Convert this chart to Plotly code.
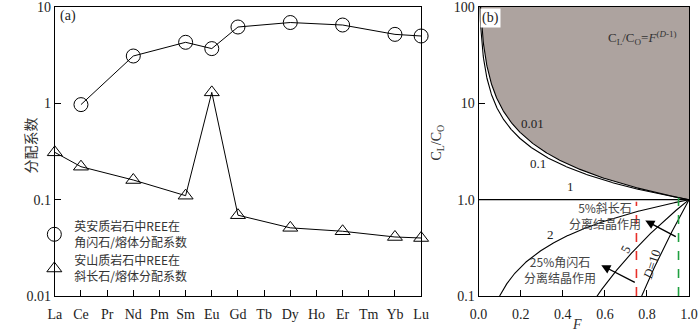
import numpy as np
import plotly.graph_objects as go

# panel (a): REE partition coefficients
ree = ["La", "Ce", "Pr", "Nd", "Pm", "Sm", "Eu", "Gd", "Tb", "Dy", "Ho", "Er", "Tm", "Yb", "Lu"]
hbl_ree = ["Ce", "Nd", "Sm", "Eu", "Gd", "Dy", "Er", "Yb", "Lu"]
hbl_kd = [0.97, 3.1, 4.3, 3.7, 6.2, 6.9, 6.5, 5.2, 5.0]
plg_ree = ["La", "Ce", "Nd", "Sm", "Eu", "Gd", "Dy", "Er", "Yb", "Lu"]
plg_kd = [0.31, 0.22, 0.16, 0.11, 1.3, 0.069, 0.051, 0.047, 0.041, 0.040]

# panel (b): Rayleigh fractionation curves CL/CO = F^(D-1)
d_values = [0.01, 0.1, 1, 2, 5, 10]
d_labels = ["0.01", "0.1", "1", "2", "5", "D=10"]
f_red = 0.75
f_green = 0.95

SERIF = "Liberation Serif"
CJK = "Noto Sans CJK SC"
xi = {el: i for i, el in enumerate(ree)}

fig = go.Figure()

fig.add_trace(go.Scatter(
    x=[xi[e] for e in hbl_ree], y=hbl_kd, mode="lines+markers",
    line=dict(color="black", width=1),
    marker=dict(symbol="circle-open", size=14, color="black", line=dict(width=1)),
    showlegend=False, cliponaxis=False, xaxis="x", yaxis="y"))
fig.add_trace(go.Scatter(
    x=[xi[e] for e in plg_ree], y=plg_kd, mode="lines+markers",
    line=dict(color="black", width=1),
    marker=dict(symbol="triangle-up-open", size=13, color="black", line=dict(width=1)),
    showlegend=False, cliponaxis=False, xaxis="x", yaxis="y"))

# legend dummies
fig.add_trace(go.Scatter(
    x=[None], y=[None], mode="markers", name="英安质岩石中REE在<br>角闪石/熔体分配系数",
    marker=dict(symbol="circle-open", size=14, color="black", line=dict(width=1)),
    xaxis="x", yaxis="y"))
fig.add_trace(go.Scatter(
    x=[None], y=[None], mode="markers", name="安山质岩石中REE在<br>斜长石/熔体分配系数",
    marker=dict(symbol="triangle-up-open", size=13, color="black", line=dict(width=1)),
    xaxis="x", yaxis="y"))

# panel (b)
F = np.linspace(0.002, 1.0, 600)
c_low = F ** (d_values[0] - 1)
mask = c_low <= 100
fx = np.concatenate([F[mask], [1.0, F[mask][0]]])
fy = np.concatenate([c_low[mask], [100, 100]])
fig.add_trace(go.Scatter(
    x=fx, y=fy, mode="lines", fill="toself", fillcolor="#ada39f",
    line=dict(width=0), showlegend=False, hoverinfo="skip",
    xaxis="x2", yaxis="y2"))

for d in d_values:
    c = F ** (d - 1)
    fig.add_trace(go.Scatter(
        x=F, y=c, mode="lines", line=dict(color="black", width=1.1),
        showlegend=False, xaxis="x2", yaxis="y2"))

fig.add_trace(go.Scatter(
    x=[f_red, f_red], y=[0.1, 0.95], mode="lines",
    line=dict(color="#e8302a", width=1.6, dash="dash"),
    showlegend=False, xaxis="x2", yaxis="y2"))
fig.add_trace(go.Scatter(
    x=[f_green, f_green], y=[0.1, 1.05], mode="lines",
    line=dict(color="#1fa040", width=1.6, dash="dash"),
    showlegend=False, xaxis="x2", yaxis="y2"))

ax_common = dict(showline=True, linecolor="black", linewidth=1, mirror=True,
                 ticks="inside", ticklen=6, tickcolor="black", showgrid=False,
                 zeroline=False, ticklabeloverflow="allow",
                 tickfont=dict(family=SERIF, size=14, color="#222"))

fig.update_layout(
    width=700, height=333, autosize=False,
    margin=dict(l=0, r=0, t=5, b=37),
    paper_bgcolor="white", plot_bgcolor="white",
    xaxis=dict(domain=[47 / 700, 423 / 700], range=[0, 14],
               tickvals=list(range(len(ree))), ticktext=ree,
               ticklabelstandoff=5, **ax_common),
    yaxis=dict(type="log", range=[-2, 1], tickvals=[0.01, 0.1, 1, 10],
               ticktext=["0.01", "0.1", "1", "10"], anchor="x", **ax_common),
    xaxis2=dict(domain=[482 / 700, 698 / 700], range=[0, 1], anchor="y2",
                tickvals=[0, 0.2, 0.4, 0.6, 0.8, 1.0],
                ticktext=["0.0", "0.2", "0.4", "0.6", "0.8", "1.0"],
                ticklabelstandoff=5, **ax_common),
    yaxis2=dict(type="log", range=[-1, 2], anchor="x2",
                tickvals=[0.1, 1, 10, 100], ticktext=["0.1", "1.0", "10", "100"],
                **ax_common),
    legend=dict(x=26 / 700, y=0.29, xanchor="left", yanchor="top",
                bgcolor="rgba(0,0,0,0)", font=dict(family=CJK, size=12, color="#333"),
                tracegroupgap=2, itemwidth=30),
    showlegend=True,
)

ann = []
ann.append(dict(text="(a)", x=50 / 700, y=1 - 9 / 291, xref="paper", yref="paper",
                xanchor="left", yanchor="middle", showarrow=False,
                font=dict(family=SERIF, size=14, color="#222")))
ann.append(dict(text="(b)", x=483 / 700, y=0.997, xref="paper", yref="paper",
                xanchor="left", yanchor="top", showarrow=False, bgcolor="white",
                font=dict(family=SERIF, size=14, color="#222")))
ann.append(dict(text="分配系数", x=9 / 700, y=0.52, xref="paper", yref="paper",
                textangle=-90, showarrow=False,
                font=dict(family=CJK, size=14, color="#333")))
ann.append(dict(text="C<sub>L</sub>/C<sub>O</sub>", x=440 / 700, y=0.53, xref="paper",
                yref="paper", textangle=-90, showarrow=False,
                font=dict(family=SERIF, size=14, color="#333")))
ann.append(dict(text="<i>F</i>", x=590 / 700, y=-0.1, xref="paper", yref="paper",
                yanchor="middle", showarrow=False,
                font=dict(family=SERIF, size=14, color="#333")))
ann.append(dict(text="C<sub>L</sub>/C<sub>O</sub>=<i>F</i><sup>(<i>D</i>-1)</sup>",
                x=613 / 700, y=1 - 20 / 291, xref="paper", yref="paper",
                xanchor="left", showarrow=False,
                font=dict(family=SERIF, size=13, color="#333")))

label_pos = [(0.255, 6.2, 0), (0.28, 2.4, 0), (0.435, 1.36, 0),
             (0.343, 0.43, 0), (0.70, 0.31, -62), (0.824, 0.21, -72)]
for lab, (lx, ly, ang) in zip(d_labels, label_pos):
    txt = "<i>D</i>=10" if lab == "D=10" else lab
    ann.append(dict(text=txt, x=lx, y=np.log10(ly), xref="x2", yref="y2",
                    textangle=ang, showarrow=False,
                    font=dict(family=SERIF, size=13, color="#222")))

ann.append(dict(text="5%斜长石<br>分离结晶作用", x=0.60, y=np.log10(0.68),
                xref="x2", yref="y2", showarrow=False,
                font=dict(family=CJK, size=12, color="#444")))
ann.append(dict(text="25%角闪石<br>分离结晶作用", x=0.388, y=np.log10(0.19),
                xref="x2", yref="y2", showarrow=False,
                font=dict(family=CJK, size=12, color="#444")))
ann.append(dict(text="", x=0.792, y=-0.216, xref="x2", yref="y2",
                ax=32, ay=17, showarrow=True, arrowhead=2, arrowsize=1.3,
                arrowwidth=1.4, arrowcolor="black"))
ann.append(dict(text="", x=0.583, y=-0.68, xref="x2", yref="y2",
                ax=35, ay=18, showarrow=True, arrowhead=2, arrowsize=1.3,
                arrowwidth=1.4, arrowcolor="black"))

fig.update_layout(annotations=ann)

post = "document.body.style.margin='0';document.body.style.overflow='hidden';"
fig.write_html("out.html", config={"displayModeBar": False, "responsive": False},
               post_script=post)
